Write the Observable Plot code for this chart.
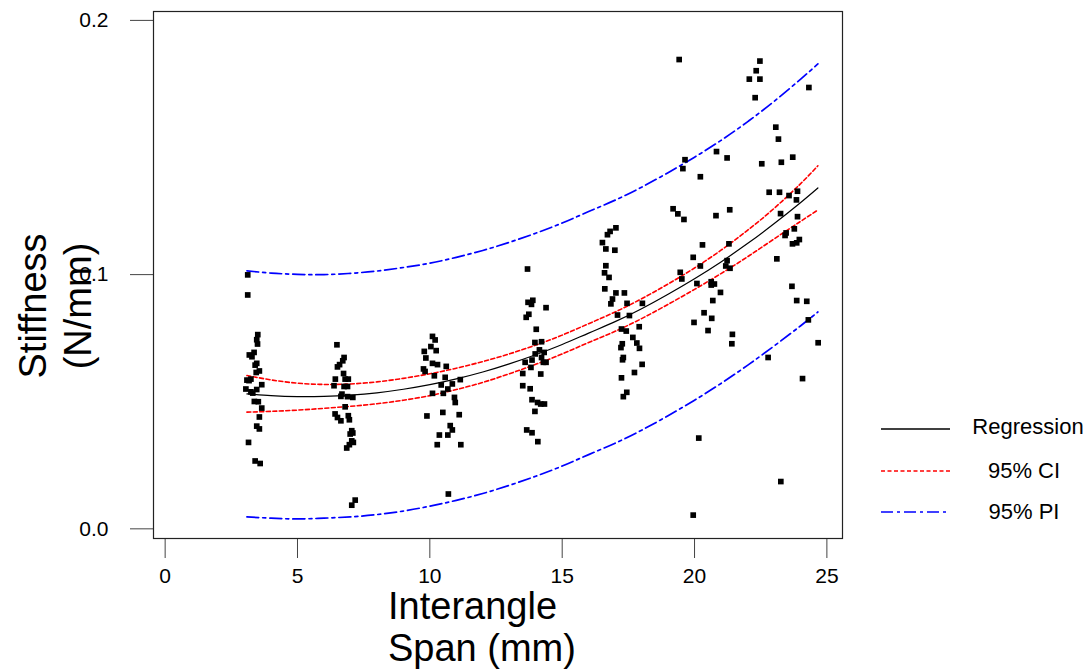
<!DOCTYPE html>
<html>
<head>
<meta charset="utf-8">
<script src="https://cdn.jsdelivr.net/npm/d3@7"></script>
<script src="https://cdn.jsdelivr.net/npm/@observablehq/plot@0.6"></script>
<style>
  html, body { margin: 0; padding: 0; background: #fff; }
  #wrap { position: relative; width: 1089px; height: 671px; font-family: "Liberation Sans", Arial, sans-serif; }
  #legend { position: absolute; left: 0; top: 0; pointer-events: none; }
</style>
</head>
<body>
<div id="wrap"></div>
<script>
// ---- Data: observed points, grouped by interangle span cluster ----
const span3  = [3.12,3.12,3.50,3.46,3.49,3.36,3.18,3.28,3.46,3.40,3.56,3.44,3.09,3.17,3.24,3.65,3.05,3.46,3.24,3.31,3.37,3.52,3.65,3.56,3.46,3.56,3.15,3.40,3.59];
const stiff3 = [0.0999,0.0920,0.0764,0.0744,0.0727,0.0694,0.0684,0.0677,0.0651,0.0644,0.0621,0.0615,0.0585,0.0583,0.0589,0.0567,0.0550,0.0548,0.0539,0.0534,0.0501,0.0500,0.0475,0.0440,0.0404,0.0393,0.0340,0.0267,0.0257];

const span7  = [6.49,6.76,6.71,6.59,6.51,6.74,6.43,6.80,6.92,6.38,6.76,6.89,6.68,6.89,7.09,6.64,6.80,6.42,6.51,6.64,6.92,6.96,7.05,6.99,7.09,7.05,6.96,6.86,7.11,7.18,7.05];
const stiff7 = [0.0724,0.0674,0.0661,0.0646,0.0637,0.0611,0.0589,0.0589,0.0589,0.0563,0.0560,0.0560,0.0530,0.0520,0.0517,0.0521,0.0480,0.0452,0.0438,0.0425,0.0445,0.0429,0.0386,0.0373,0.0377,0.0346,0.0331,0.0318,0.0340,0.0113,0.0093];

const span10  = [10.10,10.20,10.04,10.24,9.79,9.85,10.10,10.29,10.62,9.76,9.82,10.17,10.58,11.15,10.43,10.85,10.68,10.10,10.51,10.93,10.96,10.49,11.11,9.89,10.77,10.85,10.36,10.68,10.28,11.17,10.70];
const stiff10 = [0.0757,0.0743,0.0717,0.0701,0.0698,0.0672,0.0651,0.0646,0.0639,0.0629,0.0619,0.0602,0.0596,0.0587,0.0566,0.0570,0.0550,0.0533,0.0533,0.0517,0.0497,0.0458,0.0449,0.0444,0.0406,0.0389,0.0369,0.0369,0.0331,0.0331,0.0137];

const span14  = [13.69,13.89,13.71,13.84,14.39,13.74,13.64,14.02,13.97,14.22,14.14,14.32,13.98,13.60,13.86,14.22,14.29,14.39,13.82,13.51,14.19,13.51,13.79,13.86,14.07,14.19,14.33,13.97,13.66,13.86,14.08];
const stiff14 = [0.1022,0.0899,0.0891,0.0883,0.0870,0.0844,0.0832,0.0785,0.0733,0.0736,0.0704,0.0694,0.0688,0.0655,0.0664,0.0674,0.0655,0.0655,0.0635,0.0611,0.0609,0.0563,0.0551,0.0508,0.0497,0.0491,0.0491,0.0462,0.0389,0.0378,0.0343];

const span17  = [17.03,16.81,16.71,16.52,16.65,16.99,16.65,16.60,16.77,16.61,17.03,17.35,16.90,16.84,17.45,18.03,17.09,17.54,17.24,17.42,17.91,17.67,17.82,17.92,17.27,17.22,17.31,17.28,18.02,17.73,17.24,17.44,17.31];
const stiff17 = [0.1184,0.1170,0.1157,0.1126,0.1101,0.1096,0.1035,0.1007,0.0989,0.0944,0.0928,0.0928,0.0904,0.0885,0.0887,0.0887,0.0841,0.0839,0.0786,0.0778,0.0795,0.0753,0.0731,0.0710,0.0728,0.0713,0.0674,0.0665,0.0647,0.0615,0.0594,0.0537,0.0520];

const span20  = [19.42,19.64,19.56,20.83,21.23,20.22,19.19,19.37,19.60,20.81,21.33,20.30,19.95,20.22,21.30,19.46,19.52,21.23,21.18,21.34,20.09,20.63,20.75,20.63,20.98,20.69,20.36,20.65,19.98,20.51,21.43,21.41,20.16,19.95];
const stiff20 = [0.1846,0.1452,0.1417,0.1484,0.1459,0.1385,0.1259,0.1239,0.1217,0.1232,0.1255,0.1117,0.1068,0.1034,0.1121,0.1009,0.0983,0.1055,0.1034,0.1025,0.0965,0.0972,0.0963,0.0959,0.0930,0.0898,0.0850,0.0828,0.0812,0.0780,0.0765,0.0728,0.0357,0.0054];

const span23  = [22.47,22.33,22.07,22.47,24.32,22.29,23.07,23.17,22.54,23.28,23.71,22.82,23.21,23.57,23.89,23.85,23.25,23.89,23.77,23.46,23.42,23.96,23.86,23.70,23.11,23.68,23.86,24.24,24.30,24.67,22.78,24.08,23.26];
const stiff23 = [0.1840,0.1802,0.1769,0.1769,0.1736,0.1696,0.1580,0.1533,0.1436,0.1442,0.1462,0.1324,0.1324,0.1311,0.1328,0.1294,0.1240,0.1228,0.1180,0.1164,0.1154,0.1138,0.1125,0.1121,0.1062,0.0954,0.0898,0.0895,0.0822,0.0732,0.0674,0.0591,0.0186];

// ---- Fitted curves ----
const curveSpan  = [3.09,4,5,6,7,8,9,10,11,12,13,14,15,16,17,18,19,20,21,22,23,24,24.66];
const regression = [0.0531,0.0524,0.0520,0.0521,0.0526,0.0535,0.0549,0.0567,0.0590,0.0617,0.0649,0.0685,0.0725,0.0770,0.0815,0.0866,0.0923,0.0984,0.1050,0.1122,0.1200,0.1283,0.1341];
const ciUpper    = [0.0603,0.0586,0.0573,0.0568,0.0570,0.0578,0.0592,0.0610,0.0632,0.0658,0.0688,0.0723,0.0762,0.0807,0.0853,0.0905,0.0963,0.1026,0.1096,0.1174,0.1260,0.1357,0.1428];
const ciLower    = [0.0459,0.0462,0.0467,0.0474,0.0482,0.0492,0.0506,0.0524,0.0548,0.0576,0.0610,0.0647,0.0688,0.0733,0.0777,0.0827,0.0883,0.0942,0.1004,0.1070,0.1140,0.1209,0.1254];
const piUpper    = [0.1015,0.1006,0.1001,0.1000,0.1005,0.1014,0.1028,0.1045,0.1068,0.1095,0.1127,0.1163,0.1203,0.1248,0.1293,0.1344,0.1401,0.1462,0.1528,0.1601,0.1681,0.1768,0.1829];
const piLower    = [0.0047,0.0042,0.0039,0.0042,0.0047,0.0056,0.0070,0.0089,0.0112,0.0139,0.0171,0.0207,0.0247,0.0292,0.0337,0.0388,0.0445,0.0506,0.0572,0.0643,0.0719,0.0798,0.0853];

// ---- Ticks & labels ----
const xTicks = [0, 5, 10, 15, 20, 25];
const yTicks = [0, 0.1, 0.2];
const xTitle = "Interangle\nSpan (mm)";
const yTitle = "Stiffness\n(N/mm)";
const legendLabels = ["Regression", "95% CI", "95% PI"];

// ---- Build tables ----
const spans = [].concat(span3, span7, span10, span14, span17, span20, span23);
const stiffs = [].concat(stiff3, stiff7, stiff10, stiff14, stiff17, stiff20, stiff23);
const points = spans.map((s, i) => ({span: s, stiff: stiffs[i]}));
const curve = curveSpan.map((s, i) => ({
  span: s, fit: regression[i], ciHi: ciUpper[i], ciLo: ciLower[i], piHi: piUpper[i], piLo: piLower[i]
}));

const BLUE = "#0000ff", RED = "#ff0000";
const dashPI = "12,4,3,4", dashCI = "4,2.5";

const chart = Plot.plot({
  width: 1089,
  height: 671,
  marginLeft: 153,
  marginRight: 247,
  marginTop: 11,
  marginBottom: 133,
  style: {fontFamily: '"Liberation Sans", Arial, sans-serif', background: "#fff", color: "#000", overflow: "visible"},
  x: {domain: [-0.44, 25.59]},
  y: {domain: [-0.0038, 0.2035]},
  marks: [
    Plot.axisX({ticks: xTicks, tickSize: 20, tickPadding: 10, fontSize: 21, label: null, stroke: "#444", tickFormat: d3.format("d")}),
    Plot.axisY({ticks: yTicks, tickSize: 23, tickPadding: 22, fontSize: 21, label: null, stroke: "#444", tickFormat: d3.format(".1f")}),
    Plot.line(curve, {x: "span", y: "piHi", stroke: BLUE, strokeWidth: 1.7, strokeDasharray: dashPI, curve: "natural"}),
    Plot.line(curve, {x: "span", y: "piLo", stroke: BLUE, strokeWidth: 1.7, strokeDasharray: dashPI, curve: "natural"}),
    Plot.line(curve, {x: "span", y: "ciHi", stroke: RED, strokeWidth: 1.6, strokeDasharray: dashCI, curve: "natural"}),
    Plot.line(curve, {x: "span", y: "ciLo", stroke: RED, strokeWidth: 1.6, strokeDasharray: dashCI, curve: "natural"}),
    Plot.line(curve, {x: "span", y: "fit", stroke: "#000", strokeWidth: 1.2, curve: "natural"}),
    Plot.dot(points, {x: "span", y: "stiff", r: 3.2, symbol: "square", fill: "#000", stroke: "none"}),
    Plot.frame({stroke: "#222", strokeWidth: 1.2}),
    Plot.text([xTitle], {text: d => d, frameAnchor: "bottom", textAnchor: "start", lineAnchor: "top",
      dx: -110, dy: 51, fontSize: 38, lineHeight: 1.1, fill: "#000"}),
    Plot.text([yTitle], {text: d => d, frameAnchor: "left", rotate: -90, textAnchor: "middle", lineAnchor: "top",
      dx: -140, dy: 31, fontSize: 38, lineHeight: 1.2, fill: "#000"})
  ]
});

const wrap = document.getElementById("wrap");
wrap.appendChild(chart);

// ---- Legend (right side, outside the frame) ----
const legendStyles = [
  {stroke: "#000", dash: null, width: 1.3, ty: 426, ly: 429, tx: 1028},
  {stroke: RED, dash: dashCI, width: 1.6, ty: 470, ly: 471, tx: 1024},
  {stroke: BLUE, dash: dashPI, width: 1.7, ty: 511, ly: 512, tx: 1024}
];
const lg = d3.select(wrap).append("svg").attr("id", "legend").attr("width", 1089).attr("height", 671);
legendLabels.forEach((lab, i) => {
  const s = legendStyles[i];
  lg.append("line").attr("x1", 881).attr("x2", 950).attr("y1", s.ly).attr("y2", s.ly)
    .attr("stroke", s.stroke).attr("stroke-width", s.width).attr("stroke-dasharray", s.dash);
  lg.append("text").attr("x", s.tx).attr("y", s.ty).attr("dy", "0.35em").attr("text-anchor", "middle")
    .attr("font-family", '"Liberation Sans", Arial, sans-serif').attr("font-size", 22).attr("fill", "#000").text(lab);
});
</script>
</body>
</html>
